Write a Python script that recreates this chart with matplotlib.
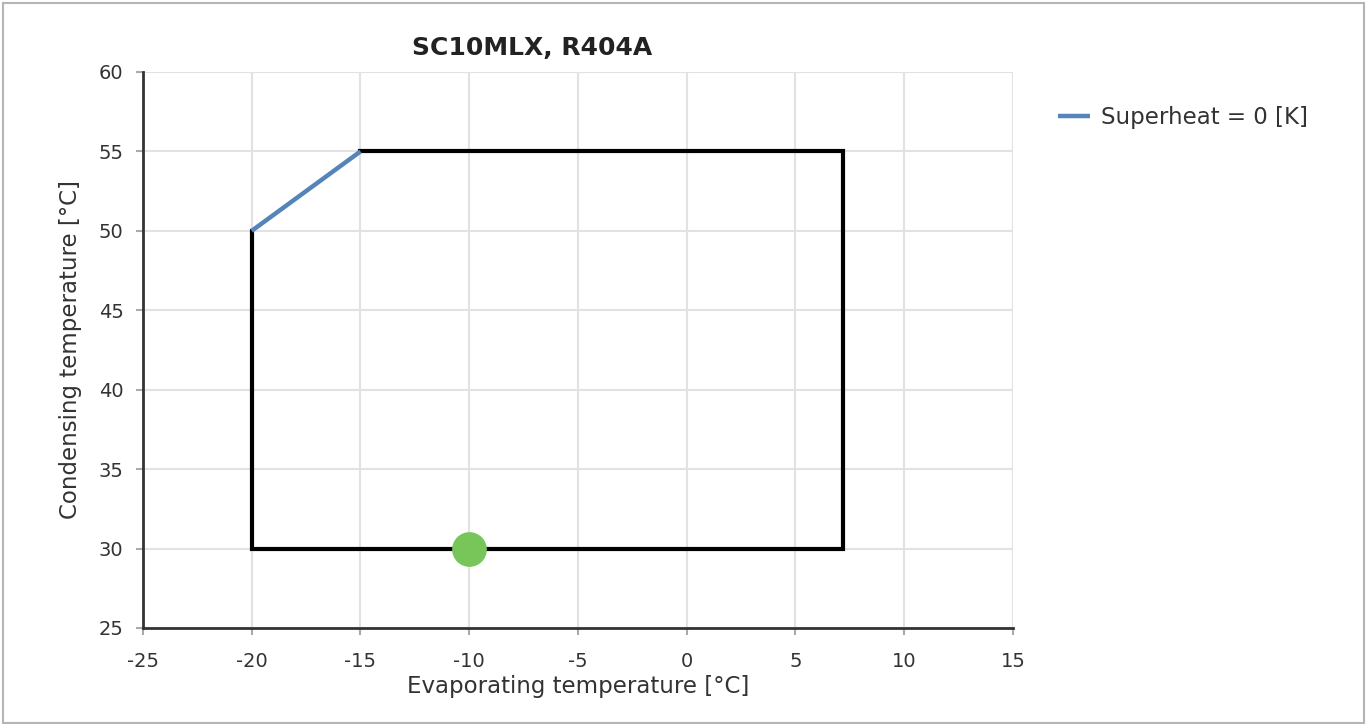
import matplotlib.pyplot as plt
from matplotlib.patches import Rectangle

# envelope (black) and superheat line (blue), operating point (green)
env_x = [-15, 7.2, 7.2, -20, -20]
env_y = [55, 55, 30, 30, 50]
sh_x = [-20, -15]
sh_y = [50, 55]
pt_x = [-10]
pt_y = [30]

x_ticks = [-25, -20, -15, -10, -5, 0, 5, 10, 15]
y_ticks = [25, 30, 35, 40, 45, 50, 55, 60]

plt.rcParams["font.family"] = ["DejaVu Sans"]
plt.rcParams["font.size"] = 14
plt.rcParams["axes.unicode_minus"] = False

fig = plt.figure(figsize=(13.68, 7.24), dpi=100)
ax = fig.add_axes([0.1045, 0.1326, 0.636, 0.768])

ax.plot(env_x, env_y, color="black", lw=3, solid_joinstyle="miter", zorder=3)
ax.plot(sh_x, sh_y, color="#5584bb", lw=3.2, solid_capstyle="butt", zorder=4,
        label="Superheat = 0 [K]")
ax.plot(pt_x, pt_y, "o", color="#78c55a", ms=25, mec="none", zorder=5)

ax.set_xlim(-25, 15)
ax.set_ylim(25, 60)
ax.set_xticks(x_ticks)
ax.set_yticks(y_ticks)
ax.grid(True, color="#e2e2e2", lw=1.5)
ax.set_axisbelow(True)
for s in ["top", "right"]:
    ax.spines[s].set_visible(False)
for s in ["left", "bottom"]:
    ax.spines[s].set_color("#333333")
    ax.spines[s].set_linewidth(2)
ax.tick_params(direction="out", length=5, width=1.5, color="#aaaaaa",
               labelcolor="#333333")
ax.tick_params(axis="x", pad=12)
ax.tick_params(axis="y", pad=9)

ax.set_xlabel("Evaporating temperature [°C]", color="#333333", fontsize=16.5, labelpad=3)
ax.set_ylabel("Condensing temperature [°C]", color="#333333", fontsize=16.5, labelpad=12)
ax.set_title("SC10MLX, R404A", fontweight="bold", fontsize=18, pad=12, color="#222222",
             x=0.447)

ax.legend(loc="upper left", bbox_to_anchor=(0.758, 0.882), bbox_transform=fig.transFigure,
          frameon=False, handlelength=1.4, handletextpad=0.5, labelcolor="#333333",
          fontsize=16.5)

fig.patches.append(Rectangle((0.002, 0.002), 0.995, 0.994, transform=fig.transFigure,
                             fill=False, edgecolor="#b5b5b5", lw=1.5))

fig.savefig("out.png", dpi=100)
